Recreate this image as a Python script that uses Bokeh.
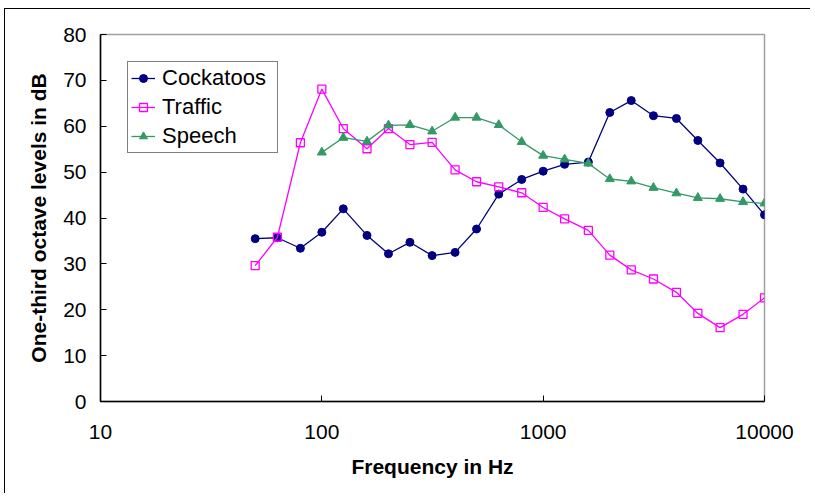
from bokeh.plotting import figure
from bokeh.models import FixedTicker, Legend, LegendItem
from bokeh.embed import file_html
from bokeh.resources import INLINE

freq_all = [50, 63, 80, 100, 125, 160, 200, 250, 315, 400, 500, 630, 800,
            1000, 1250, 1600, 2000, 2500, 3150, 4000, 5000, 6300, 8000, 10000]
cockatoos = [35.5, 35.7, 33.4, 36.9, 42.0, 36.2, 32.2, 34.7, 31.8, 32.5, 37.6, 45.2, 48.4,
             50.2, 51.7, 52.2, 63.0, 65.6, 62.3, 61.7, 56.9, 52.0, 46.3, 40.7]
traffic = [29.6, 35.8, 56.4, 68.1, 59.5, 55.1, 59.5, 56.0, 56.5, 50.5, 47.9, 46.8, 45.5,
           42.3, 39.8, 37.3, 31.9, 28.7, 26.7, 23.8, 19.2, 16.1, 19.0, 22.6]
freq_speech = [100, 125, 160, 200, 250, 315, 400, 500, 630, 800, 1000, 1250, 1600,
               2000, 2500, 3150, 4000, 5000, 6300, 8000, 10000]
speech = [54.3, 57.5, 56.7, 60.2, 60.3, 58.9, 61.9, 61.9, 60.3, 56.6, 53.6, 52.8, 51.9,
          48.5, 48.0, 46.6, 45.4, 44.4, 44.2, 43.5, 43.2]

x_ticks = [10, 100, 1000, 10000]
y_ticks = [0, 10, 20, 30, 40, 50, 60, 70, 80]

FONT = "Liberation Sans"
NAVY = "#000080"
MAGENTA = "#FF00FF"
GREEN = "#339966"

p = figure(width=806, height=485, x_axis_type="log",
           x_range=(10, 10000), y_range=(0, 80),
           output_backend="svg", toolbar_location=None,
           min_border_left=95, min_border_right=47,
           min_border_top=25, min_border_bottom=93)
p.styles = {"margin-left": "4px", "margin-top": "8px",
            "border-left": "1px solid black", "border-top": "1px solid black"}

p.xgrid.visible = False
p.ygrid.visible = False
p.outline_line_color = "#a0a0a0"
p.outline_line_width = 1.5
p.background_fill_color = "white"
p.border_fill_color = "white"

for ax in (p.xaxis[0], p.yaxis[0]):
    ax.axis_line_color = "black"
    ax.axis_line_width = 1.5
    ax.major_tick_line_color = "black"
    ax.major_tick_line_width = 1
    ax.major_tick_in = 6
    ax.major_tick_out = 0
    ax.minor_tick_line_color = None
    ax.major_label_text_font = FONT
    ax.major_label_text_font_size = "21px"
    ax.major_label_text_color = "black"
    ax.axis_label_text_font = FONT
    ax.axis_label_text_font_size = "21px"
    ax.axis_label_text_font_style = "bold"
    ax.axis_label_text_color = "black"

p.xaxis.ticker = FixedTicker(ticks=x_ticks)
p.xaxis.major_label_overrides = {t: str(t) for t in x_ticks}
p.yaxis.ticker = FixedTicker(ticks=y_ticks)
p.xaxis.axis_label = "Frequency in Hz"
p.yaxis.axis_label = "One-third octave levels in dB"
p.xaxis.major_label_standoff = 23
p.xaxis.axis_label_standoff = 13
p.yaxis.major_label_standoff = 14
p.yaxis.axis_label_standoff = 10

l1 = p.line(freq_all, cockatoos, line_color=NAVY, line_width=1.3)
m1 = p.scatter(freq_all, cockatoos, marker="circle", size=8,
               fill_color=NAVY, line_color=NAVY)
l2 = p.line(freq_all, traffic, line_color=MAGENTA, line_width=1.3)
m2 = p.scatter(freq_all, traffic, marker="square", size=8,
               fill_alpha=0, line_color=MAGENTA, line_width=1.3)
l3 = p.line(freq_speech, speech, line_color=GREEN, line_width=1.3)
m3 = p.scatter(freq_speech, speech, marker="triangle", size=9,
               fill_color=GREEN, line_color=GREEN)

legend = Legend(items=[
    LegendItem(label="Cockatoos", renderers=[l1, m1]),
    LegendItem(label="Traffic", renderers=[l2, m2]),
    LegendItem(label="Speech", renderers=[l3, m3]),
], location="top_left", margin=27, padding=3, spacing=3,
    glyph_width=24, glyph_height=20, label_height=20, label_width=112,
    label_standoff=7,
    label_text_font=FONT, label_text_font_size="22px", label_text_color="black",
    border_line_color="black", border_line_width=1,
    background_fill_color="white", background_fill_alpha=1)
p.add_layout(legend)

open("out.html", "w").write(file_html(p, INLINE))
